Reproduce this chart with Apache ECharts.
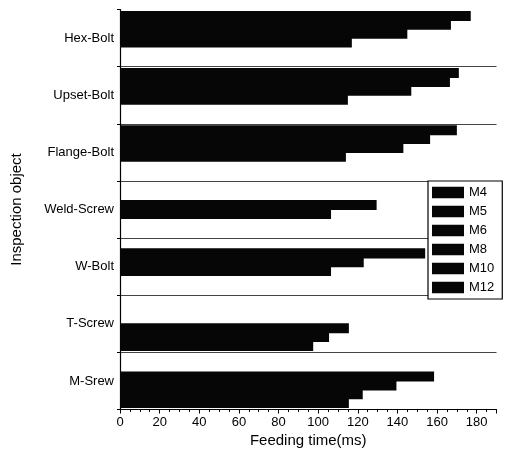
<!DOCTYPE html>
<html>
<head>
<meta charset="utf-8">
<script src="https://cdn.jsdelivr.net/npm/echarts@6/dist/echarts.min.js"></script>
<style>html,body{margin:0;padding:0;background:#fff;}#c{width:511px;height:454px;}</style>
</head>
<body>
<div id="c"></div>
<script>
const categories = ['M-Srew', 'T-Screw', 'W-Bolt', 'Weld-Screw', 'Flange-Bolt', 'Upset-Bolt', 'Hex-Bolt'];
const seriesNames = ['M4', 'M5', 'M6', 'M8', 'M10', 'M12'];
const M4  = [null, null, null, null, 170, 171, 177];
const M5  = [null, null, 154, null, 156.5, 166.5, 167];
const M6  = [158.5, null, 123, 129.5, 143, 147, 145];
const M8  = [139.5, 115.5, 106.5, 106.5, 114, 115, 117];
const M10 = [122.5, 105.5, null, null, null, null, null];
const M12 = [115.5, 97.5, null, null, null, null, null];
const xTicks = [0, 20, 40, 60, 80, 100, 120, 140, 160, 180];

const values = [M4, M5, M6, M8, M10, M12];
const font = 'Liberation Sans, Arial, sans-serif';
const chart = echarts.init(document.getElementById('c'), null, {renderer: 'canvas'});
const series = seriesNames.map((n, i) => ({
  name: n,
  type: 'bar',
  data: values[i],
  barGap: '-12%',
  barCategoryGap: '5%',
  itemStyle: {color: '#060606'},
  silent: true
}));
chart.setOption({
  animation: false,
  backgroundColor: '#fff',
  grid: {left: 120, top: 9.5, right: 14.5, bottom: 44.5},
  legend: {
    data: seriesNames,
    orient: 'vertical',
    left: 428, top: 181,
    padding: [5, 8, 5, 4],
    itemWidth: 32, itemHeight: 11.5, itemGap: 6,
    icon: 'rect',
    backgroundColor: '#fff',
    borderColor: '#000', borderWidth: 1.2,
    textStyle: {fontFamily: font, fontSize: 13, color: '#000'},
    selectedMode: false
  },
  xAxis: {
    type: 'value', min: 0, max: 190, interval: 20,
    name: 'Feeding time(ms)', nameLocation: 'middle', nameGap: 18,
    nameTextStyle: {fontFamily: font, fontSize: 15, color: '#000'},
    axisLine: {show: true, lineStyle: {color: '#000', width: 1.2}},
    axisTick: {show: true, length: 4, lineStyle: {color: '#000'}},
    minorTick: {show: true, splitNumber: 4, length: 2.5, lineStyle: {color: '#000'}},
    splitLine: {show: false},
    axisLabel: {fontFamily: font, fontSize: 13, color: '#000', margin: 6,
      formatter: v => xTicks.indexOf(v) >= 0 ? String(v) : ''}
  },
  yAxis: {
    type: 'category', data: categories,
    name: 'Inspection object', nameLocation: 'middle', nameGap: 96,
    nameTextStyle: {fontFamily: font, fontSize: 15, color: '#000'},
    axisLine: {show: true, lineStyle: {color: '#000', width: 1.2}},
    axisTick: {show: true, length: 3, lineStyle: {color: '#000'}},
    splitLine: {show: true, showMaxLine: false, lineStyle: {color: '#444', width: 1}},
    axisLabel: {fontFamily: font, fontSize: 13, color: '#000', margin: 6}
  },
  series: series
});
</script>
</body>
</html>
